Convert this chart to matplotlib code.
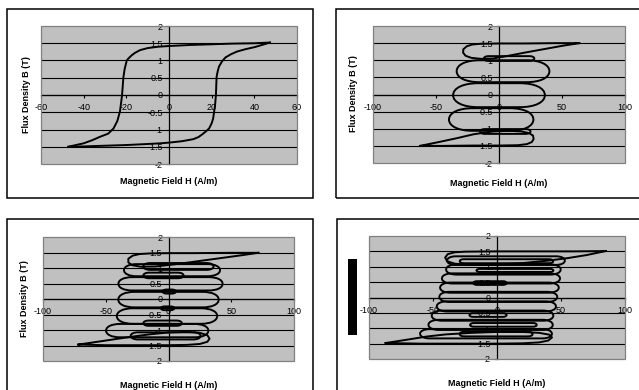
import matplotlib

matplotlib.use("Agg")
import matplotlib.pyplot as plt
from matplotlib.patches import PathPatch, Rectangle
from matplotlib.path import Path
from matplotlib.ticker import FormatStrFormatter

FIG_W, FIG_H = 639, 390

plt.rcParams.update(
    {
        "font.family": ["Liberation Sans", "DejaVu Sans"],
        "axes.unicode_minus": False,
    }
)

B_TICKS = [-2, -1.5, -1, -0.5, 0, 0.5, 1, 1.5, 2]
H_TICKS_MAJOR = [-60, -40, -20, 0, 20, 40, 60]
H_TICKS_MINOR = [-100, -50, 0, 50, 100]
X_LABEL = "Magnetic Field H (A/m)"
Y_LABEL = "Flux Density B (T)"

# --- panel 1: major loop, two branches
MAJOR_DOWN_H = [47.3, 40, 30, 20, 10, 0, -5, -10, -13.6, -16, -17.5, -19, -19.8,
                -20.8, -21.4, -22, -22.5, -23, -24.2, -26, -28.5, -32.3, -36, -40, -47.2]
MAJOR_DOWN_B = [1.52, 1.50, 1.49, 1.47, 1.45, 1.42, 1.40, 1.36, 1.30, 1.22, 1.15, 1.06, 1.00,
                0.75, 0.50, 0.00, -0.25, -0.48, -0.75, -0.97, -1.12, -1.21, -1.31, -1.40, -1.50]
MAJOR_UP_H = [-47.2, -40, -30, -20, -10, -4, 0, 6, 11.4, 13.8, 15.6, 17.4, 18.8, 20, 20.7,
              21.6, 22, 22.3, 22.8, 23.4, 24.8, 26.5, 29, 31.9, 36, 40.3, 47.3]
MAJOR_UP_B = [-1.50, -1.49, -1.47, -1.45, -1.42, -1.40, -1.38, -1.34, -1.28, -1.22, -1.14,
              -1.05, -0.97, -0.82, -0.68, -0.29, 0.00, 0.52, 0.68, 0.82, 0.97, 1.09, 1.18,
              1.26, 1.33, 1.39, 1.52]

# --- panel 2: minor loops
P2_TOP_H = [63.7, 45, 20, 0, -15, -21, -25.5, -28.3, -28.5, -26.5, -22, -14, -5, 6, 20, 35, 50, 63.7]
P2_TOP_B = [1.50, 1.50, 1.49, 1.49, 1.48, 1.46, 1.41, 1.32, 1.22, 1.13, 1.07, 1.04, 1.05,
            1.12, 1.22, 1.32, 1.42, 1.50]
P2_BOT_H = [-62.7, -45, -20, 0, 15, 22, 26, 27.5, 27, 24, 18, 8, -5, -20, -34, -48, -62.7]
P2_BOT_B = [-1.50, -1.50, -1.49, -1.49, -1.48, -1.45, -1.39, -1.30, -1.20, -1.13, -1.08,
            -1.06, -1.08, -1.16, -1.28, -1.39, -1.50]
P2_LOOP_H = [3.2, 0.0, -6.2, 8.0, 5.0]
P2_LOOP_B = [0.68, -0.02, -0.73, 1.05, -1.08]
P2_LOOP_W = [73.6, 72.8, 67.0, 40.0, 40.0]
P2_LOOP_HT = [0.64, 0.70, 0.66, 0.14, 0.14]

# --- panel 3: minor loops
P3_TOP_H = [71.6, 50, 20, 0, -15, -23, -28.5, -32, -32, -29, -22, -10, 5, 20, 40, 58, 71.6]
P3_TOP_B = [1.49, 1.49, 1.48, 1.48, 1.47, 1.45, 1.40, 1.30, 1.18, 1.09, 1.04, 1.05, 1.12,
            1.20, 1.31, 1.41, 1.49]
P3_BOT_H = [-71.8, -50, -25, 0, 15, 25, 31, 32.7, 31, 25, 15, 0, -15, -30, -45, -60, -71.8]
P3_BOT_B = [-1.47, -1.49, -1.49, -1.49, -1.48, -1.45, -1.38, -1.28, -1.17, -1.09, -1.06,
            -1.08, -1.14, -1.22, -1.31, -1.40, -1.47]
P3_LOOP_H = [2.8, 1.6, 0.0, -1.2, -9.0, -4.0, 0.6, -0.7, -4.7, 7.9, -2.3]
P3_LOOP_B = [0.93, 0.49, -0.02, -0.55, -1.02, 0.76, 0.24, -0.30, -0.78, 1.05, -1.19]
P3_LOOP_W = [76.5, 83.0, 80.0, 80.0, 81.5, 32.0, 10.5, 10.6, 30.6, 56.0, 55.7]
P3_LOOP_HT = [0.39, 0.43, 0.50, 0.50, 0.43, 0.18, 0.13, 0.12, 0.17, 0.22, 0.23]

# --- panel 4: minor loops
P4_TOP_H = [85, 60, 30, 0, -25, -33, -38.5, -40.5, -39, -33, -20, 0, 20, 40, 55, 70, 85]
P4_TOP_B = [1.51, 1.50, 1.50, 1.50, 1.49, 1.47, 1.41, 1.30, 1.18, 1.10, 1.06, 1.07, 1.12,
            1.20, 1.28, 1.38, 1.51]
P4_BOT_H = [-87, -60, -30, 0, 20, 33, 40, 43, 41, 33, 20, 0, -20, -40, -55, -70, -87]
P4_BOT_B = [-1.48, -1.50, -1.50, -1.50, -1.49, -1.46, -1.40, -1.30, -1.21, -1.15, -1.12,
            -1.12, -1.15, -1.20, -1.27, -1.37, -1.48]
P4_LOOP_H = [7.0, 5.0, 3.1, 1.9, 1.0, -0.5, -3.5, -5.0, -8.6,
             14.0, -5.5, -7.0, 5.0, -0.7, 7.4]
P4_LOOP_B = [1.20, 0.91, 0.62, 0.32, 0.02, -0.29, -0.59, -0.89, -1.18,
             0.88, 0.47, -0.57, -0.89, -1.19, 1.18]
P4_LOOP_W = [92.0, 89.5, 92.2, 92.7, 92.1, 93.1, 95.0, 97.1, 103.0,
             60.0, 26.0, 29.0, 52.0, 57.0, 73.0]
P4_LOOP_HT = [0.28, 0.33, 0.33, 0.33, 0.33, 0.33, 0.33, 0.33, 0.30,
              0.10, 0.12, 0.12, 0.12, 0.15, 0.13]

LINE_W = 1.4
CAP_STRETCH = 2.1  # end caps of the minor loops run longer than round
KAPPA = 0.6        # cubic handle length for the end-cap corners


def fig_rect(left, top, right, bottom):
    return [left / FIG_W, 1 - bottom / FIG_H, (right - left) / FIG_W, (bottom - top) / FIG_H]


def fig_xy(x, y):
    return x / FIG_W, 1 - y / FIG_H


def style_axes(ax, xlim, xticks):
    ax.set_facecolor("#c0c0c0")
    ax.set_xlim(*xlim)
    ax.set_ylim(-2, 2)
    ax.set_xticks(xticks)
    ax.set_yticks(B_TICKS)
    ax.yaxis.set_major_formatter(FormatStrFormatter("%g"))
    ax.xaxis.set_major_formatter(FormatStrFormatter("%g"))
    for level in B_TICKS[1:-1]:
        ax.axhline(level, color="black", lw=0.8, zorder=1)
    for side in ("top", "right"):
        ax.spines[side].set_visible(False)
    ax.spines["left"].set_position(("data", 0))
    ax.spines["bottom"].set_position(("data", 0))
    ax.spines["left"].set_linewidth(0.9)
    ax.spines["bottom"].set_linewidth(0.9)
    ax.tick_params(axis="x", direction="out", length=2.5, width=0.8, pad=3.5,
                   labelsize=6.5, colors="black")
    ax.tick_params(axis="y", direction="out", length=2.5, width=0.8, pad=2,
                   labelsize=6.5, colors="black")
    ax.add_patch(Rectangle((0, 0), 1, 1, transform=ax.transAxes, fill=False,
                           ec="#808080", lw=0.9, clip_on=False, zorder=3))


def loop_path(h, b, w, ht, rx):
    """Flattened loop outline: straight top/bottom with rounded end caps."""
    ry = ht / 2
    xl, xr = h - w / 2, h + w / 2
    yb, yt = b - ry, b + ry
    kx, ky = KAPPA * rx, KAPPA * ry
    verts = [
        (xl + rx, yb), (xr - rx, yb),
        (xr - rx + kx, yb), (xr, b - ky), (xr, b),
        (xr, b + ky), (xr - rx + kx, yt), (xr - rx, yt),
        (xl + rx, yt),
        (xl + rx - kx, yt), (xl, b + ky), (xl, b),
        (xl, b - ky), (xl + rx - kx, yb), (xl + rx, yb),
    ]
    codes = [Path.MOVETO, Path.LINETO] + [Path.CURVE4] * 6 + [Path.LINETO] + [Path.CURVE4] * 6
    return Path(verts, codes)


def draw_loops(ax, hs, bs, ws, hts):
    # cap length is set in pixels so the ends keep the same look in every panel
    pos = ax.get_position()
    x0, x1 = ax.get_xlim()
    y0, y1 = ax.get_ylim()
    px_x = pos.width * FIG_W / (x1 - x0)
    px_y = pos.height * FIG_H / (y1 - y0)
    for h, b, w, ht in zip(hs, bs, ws, hts):
        rx = min(CAP_STRETCH * 0.5 * ht * px_y / px_x, 0.5 * w)
        ax.add_patch(PathPatch(loop_path(h, b, w, ht, rx), fill=False, ec="black",
                               lw=LINE_W, zorder=4))


def draw_path(ax, hs, bs):
    ax.plot(hs, bs, color="black", lw=LINE_W, solid_joinstyle="round", zorder=4)


def add_frame(fig, left, top, right, bottom):
    x0, y0 = fig_xy(left, bottom)
    fig.add_artist(Rectangle((x0, y0), (right - left) / FIG_W, (bottom - top) / FIG_H,
                             transform=fig.transFigure, fill=False, ec="black", lw=1.1))


fig = plt.figure(figsize=(FIG_W / 100, FIG_H / 100), dpi=100)
fig.patch.set_facecolor("white")

# outer chart frames
add_frame(fig, 7, 9, 313, 198)
add_frame(fig, 336, 9, 660, 198)
add_frame(fig, 7, 219, 313, 410)
add_frame(fig, 337, 219, 660, 410)

# panel 1
ax1 = fig.add_axes(fig_rect(41, 26, 297, 164))
style_axes(ax1, (-60, 60), H_TICKS_MAJOR)
draw_path(ax1, MAJOR_DOWN_H, MAJOR_DOWN_B)
draw_path(ax1, MAJOR_UP_H, MAJOR_UP_B)

# panel 2
ax2 = fig.add_axes(fig_rect(373, 26, 625, 163))
style_axes(ax2, (-100, 100), H_TICKS_MINOR)
draw_path(ax2, P2_TOP_H, P2_TOP_B)
draw_path(ax2, P2_BOT_H, P2_BOT_B)
draw_loops(ax2, P2_LOOP_H, P2_LOOP_B, P2_LOOP_W, P2_LOOP_HT)

# panel 3
ax3 = fig.add_axes(fig_rect(43, 237, 294, 361))
style_axes(ax3, (-100, 100), H_TICKS_MINOR)
draw_path(ax3, P3_TOP_H, P3_TOP_B)
draw_path(ax3, P3_BOT_H, P3_BOT_B)
draw_loops(ax3, P3_LOOP_H, P3_LOOP_B, P3_LOOP_W, P3_LOOP_HT)

# panel 4
ax4 = fig.add_axes(fig_rect(369, 236, 625, 359))
style_axes(ax4, (-100, 100), H_TICKS_MINOR)
draw_path(ax4, P4_TOP_H, P4_TOP_B)
draw_path(ax4, P4_BOT_H, P4_BOT_B)
draw_loops(ax4, P4_LOOP_H, P4_LOOP_B, P4_LOOP_W, P4_LOOP_HT)

# axis titles
label_kw = dict(fontsize=6.5, fontweight="bold", color="black")
fig.text(*fig_xy(169, 181), X_LABEL, ha="center", va="center", **label_kw)
fig.text(*fig_xy(499, 183), X_LABEL, ha="center", va="center", **label_kw)
fig.text(*fig_xy(169, 385), X_LABEL, ha="center", va="center", **label_kw)
fig.text(*fig_xy(497, 384), X_LABEL, ha="center", va="center", **label_kw)
fig.text(*fig_xy(27, 95), Y_LABEL, ha="center", va="center", rotation=90, **label_kw)
fig.text(*fig_xy(353, 94), Y_LABEL, ha="center", va="center", rotation=90, **label_kw)
fig.text(*fig_xy(25, 299), Y_LABEL, ha="center", va="center", rotation=90, **label_kw)

# filled block beside the last chart
bx0, by0 = fig_xy(348, 335)
fig.add_artist(Rectangle((bx0, by0), 9 / FIG_W, 76 / FIG_H, transform=fig.transFigure,
                         fc="black", ec="none"))

fig.savefig("out.png", dpi=100)
